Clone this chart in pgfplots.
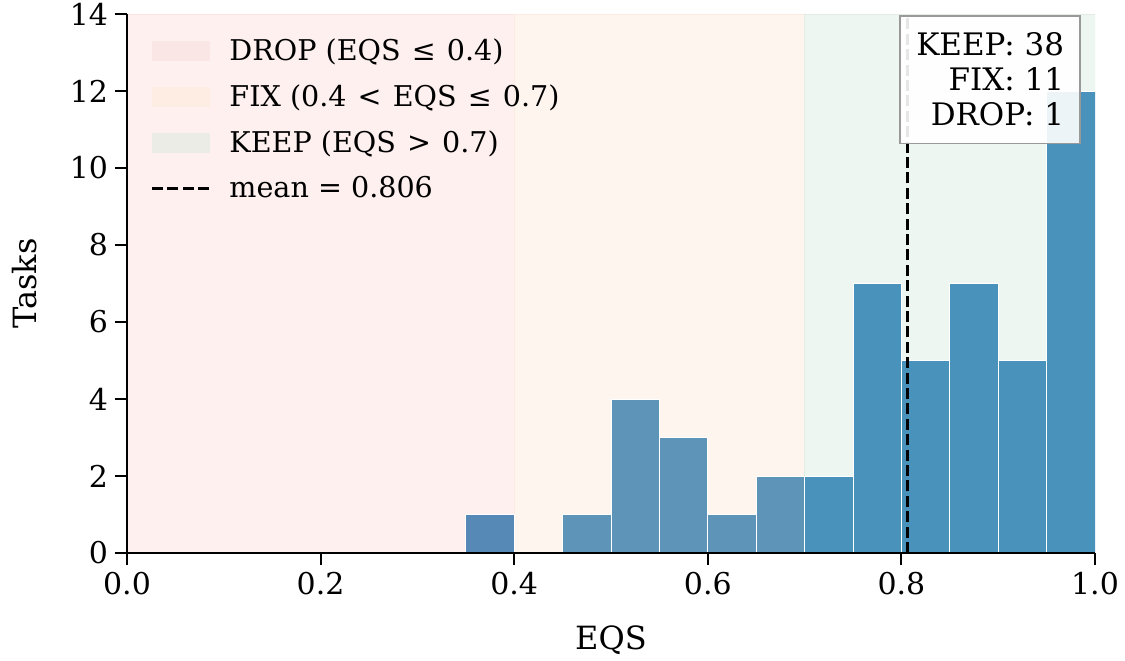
\documentclass[border=0pt]{standalone}
\usepackage{pgfplots}
\pgfplotsset{compat=1.18}
\usepackage{fontspec}
\setmainfont{DejaVu Serif}

\definecolor{dropbg}{HTML}{FDF0EF}
\definecolor{fixbg}{HTML}{FEF5EF}
\definecolor{keepbg}{HTML}{EEF6F1}
\definecolor{dropedge}{HTML}{FBE4E0}
\definecolor{fixedge}{HTML}{FCEBE0}
\definecolor{keepedge}{HTML}{E3EDE3}
\definecolor{droppatch}{HTML}{FBE6E6}
\definecolor{fixpatch}{HTML}{FDEDE3}
\definecolor{keeppatch}{HTML}{ECECE7}
\definecolor{dropbar}{HTML}{5689B6}
\definecolor{fixbar}{HTML}{5E94B8}
\definecolor{keepbar}{HTML}{4892BB}

\newcommand{\rel}[1]{\hspace{1pt}#1\hspace{1pt}}

% histogram bins (centre, count), width 0.05
\pgfplotstableread{
x y
0.375 1
}\dropbins
\pgfplotstableread{
x y
0.475 1
0.525 4
0.575 3
0.625 1
0.675 2
}\fixbins
\pgfplotstableread{
x y
0.725 2
0.775 7
0.825 5
0.875 7
0.925 5
0.975 12
}\keepbins

\begin{document}
\begin{tikzpicture}
\begin{axis}[
    scale only axis,
    width=484pt, height=269.5pt,
    xmin=0, xmax=1, ymin=0, ymax=14,
    axis x line*=bottom, axis y line*=left,
    axis line style={line width=1pt, black},
    axis on top,
    xtick={0,0.2,0.4,0.6,0.8,1},
    xticklabels={0.0,0.2,0.4,0.6,0.8,1.0},
    ytick={0,2,...,14},
    tick align=outside,
    major tick length=6pt,
    tick style={line width=1pt, black},
    /pgf/number format/assume math mode=true,
    ticklabel style={font=\fontsize{15}{18}\selectfont},
    xlabel={EQS}, ylabel={Tasks},
    label style={font=\fontsize{16}{19}\selectfont},
    xlabel style={at={(axis description cs:0.5,-0.1614)}, anchor=center},
    ylabel style={at={(axis description cs:-0.1054,0.5)}, anchor=center},
    legend style={at={(axis description cs:0.024,0.962)}, anchor=north west,
        draw=none, fill=none, font=\fontsize{14.3}{16}\selectfont,
        row sep=6.5pt, inner sep=0pt},
    legend cell align=left,
]
\addplot[fill=dropbg, draw=dropedge, line width=0.5pt,
    legend image code/.code={\fill[droppatch] (0pt,-4.75pt) rectangle (28.5pt,4.75pt); \path (36pt,0pt);}]
    coordinates {(0,14) (0.4,14)} \closedcycle;
\addlegendentry{DROP (EQS \rel{≤} 0.4)}
\addplot[fill=fixbg, draw=fixedge, line width=0.5pt,
    legend image code/.code={\fill[fixpatch] (0pt,-4.75pt) rectangle (28.5pt,4.75pt); \path (36pt,0pt);}]
    coordinates {(0.4,14) (0.7,14)} \closedcycle;
\addlegendentry{FIX (0.4 \rel{<} EQS \rel{≤} 0.7)}
\addplot[fill=keepbg, draw=keepedge, line width=0.5pt,
    legend image code/.code={\fill[keeppatch] (0pt,-4.75pt) rectangle (28.5pt,4.75pt); \path (36pt,0pt);}]
    coordinates {(0.7,14) (1.0,14)} \closedcycle;
\addlegendentry{KEEP (EQS \rel{>} 0.7)}

\addplot[ybar, bar width=0.05, bar shift=0pt, fill=dropbar, draw=white, line width=0.5pt, forget plot] table {\dropbins};
\addplot[ybar, bar width=0.05, bar shift=0pt, fill=fixbar, draw=white, line width=0.5pt, forget plot] table {\fixbins};
\addplot[ybar, bar width=0.05, bar shift=0pt, fill=keepbar, draw=white, line width=0.5pt, forget plot] table {\keepbins};

\addplot[black, line width=1.4pt, dash pattern=on 5.5pt off 2.2pt,
    legend image code/.code={\draw[black, line width=1.4pt, dash pattern=on 5.5pt off 2.2pt] (0pt,0pt) -- (28.5pt,0pt); \path (36pt,0pt);}]
    coordinates {(0.806,0) (0.806,14)};
\addlegendentry{mean = 0.806}

\node[draw=gray!80, line width=0.8pt, fill=white, fill opacity=0.9, text opacity=1,
    align=right, anchor=north east, font=\fontsize{15.5}{17.5}\selectfont,
    inner xsep=8pt, inner ysep=8.5pt]
    at (rel axis cs:0.9855,0.998) {KEEP: 38\\FIX: 11\\DROP: 1};
\end{axis}
\pgfresetboundingbox
\path ([shift={(-63.5pt,-53.5pt)}]current axis.south west) rectangle ([shift={(15pt,7pt)}]current axis.north east);
\end{tikzpicture}
\end{document}
